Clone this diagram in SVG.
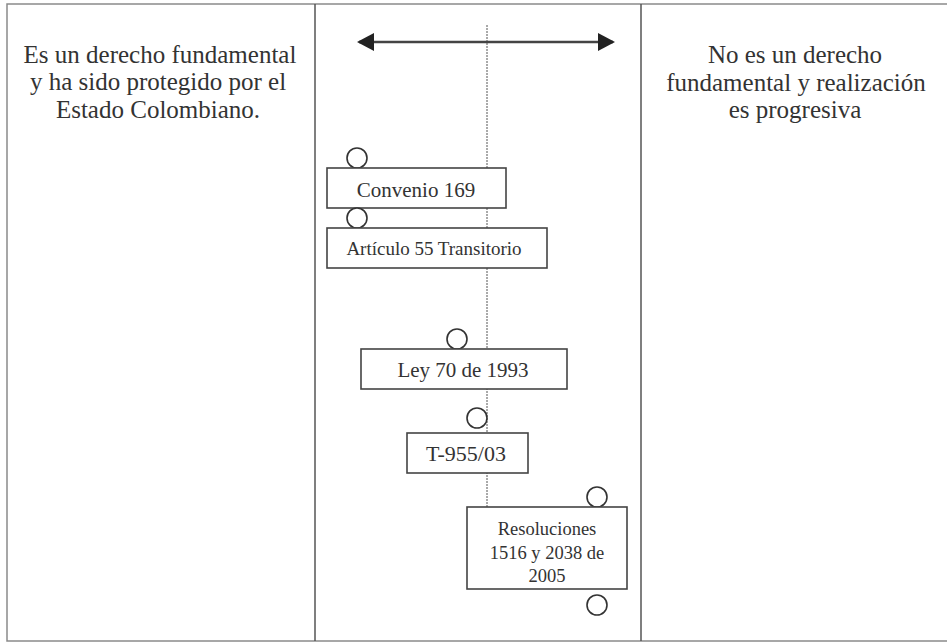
<svg xmlns="http://www.w3.org/2000/svg" width="947" height="642" viewBox="0 0 947 642">
<style>
.frame{stroke:#8a8a8a;stroke-width:1.5;fill:none}
.div{stroke:#555;stroke-width:1.5;fill:none}
.box{fill:#fff;stroke:#444;stroke-width:1.6}
.ring{fill:#fff;stroke:#333;stroke-width:1.6}
.side{font-size:25px;fill:#333;text-anchor:middle}
.lbl{fill:#333;text-anchor:middle}
.dot{stroke:#555;stroke-width:1;stroke-dasharray:2 1;fill:none}
</style>
<defs>
<marker id="ah" viewBox="0 0 17 18" refX="15" refY="9" markerWidth="17" markerHeight="18" markerUnits="userSpaceOnUse" orient="auto-start-reverse">
<path d="M0,0 L17,9 L0,18 Z" fill="#222"/>
</marker>
</defs>
<rect width="947" height="642" fill="#fff"/>
<g id="frame">
<path class="frame" d="M947,4 H7 V641 H947"/>
<line class="div" x1="315" y1="4" x2="315" y2="641"/>
<line class="div" x1="641" y1="4" x2="641" y2="641"/>
</g>
<g id="left-text" font-family="'Liberation Serif','DejaVu Serif',serif">
<text class="side" x="160" y="63">Es un derecho fundamental</text>
<text class="side" x="158" y="90">y ha sido protegido por el</text>
<text class="side" x="158" y="118">Estado Colombiano.</text>
</g>
<g id="right-text" font-family="'Liberation Serif','DejaVu Serif',serif">
<text class="side" x="795" y="63">No es un derecho</text>
<text class="side" x="796" y="91">fundamental y realización</text>
<text class="side" x="795" y="118">es progresiva</text>
</g>
<g id="connectors">
<line class="dot" x1="487" y1="25" x2="487" y2="507"/>
<line x1="359" y1="42" x2="613" y2="42" stroke="#444" stroke-width="2.5" marker-start="url(#ah)" marker-end="url(#ah)"/>
</g>
<g id="convenio" font-family="'Liberation Serif','DejaVu Serif',serif">
<circle class="ring" cx="357" cy="158" r="10"/>
<rect class="box" x="327" y="168" width="179" height="40"/>
<text class="lbl" x="416" y="197" font-size="21">Convenio 169</text>
</g>
<g id="articulo" font-family="'Liberation Serif','DejaVu Serif',serif">
<circle class="ring" cx="357" cy="218" r="10"/>
<rect class="box" x="327" y="228" width="220" height="40"/>
<text class="lbl" x="434" y="255" font-size="19">Artículo 55 Transitorio</text>
</g>
<g id="ley" font-family="'Liberation Serif','DejaVu Serif',serif">
<circle class="ring" cx="457" cy="339" r="10"/>
<rect class="box" x="361" y="349" width="206" height="40"/>
<text class="lbl" x="463" y="377" font-size="21">Ley 70 de 1993</text>
</g>
<g id="t955" font-family="'Liberation Serif','DejaVu Serif',serif">
<circle class="ring" cx="477" cy="418" r="10"/>
<rect class="box" x="407" y="433" width="121" height="40"/>
<text class="lbl" x="466" y="461" font-size="22">T-955/03</text>
</g>
<g id="resoluciones" font-family="'Liberation Serif','DejaVu Serif',serif">
<circle class="ring" cx="597" cy="497" r="10"/>
<rect class="box" x="467" y="507" width="160" height="82"/>
<text class="lbl" x="547" y="535" font-size="18.5">Resoluciones</text>
<text class="lbl" x="547" y="559" font-size="18.5">1516 y 2038 de</text>
<text class="lbl" x="547" y="582" font-size="18.5">2005</text>
<circle class="ring" cx="597" cy="605" r="10"/>
</g>
</svg>
